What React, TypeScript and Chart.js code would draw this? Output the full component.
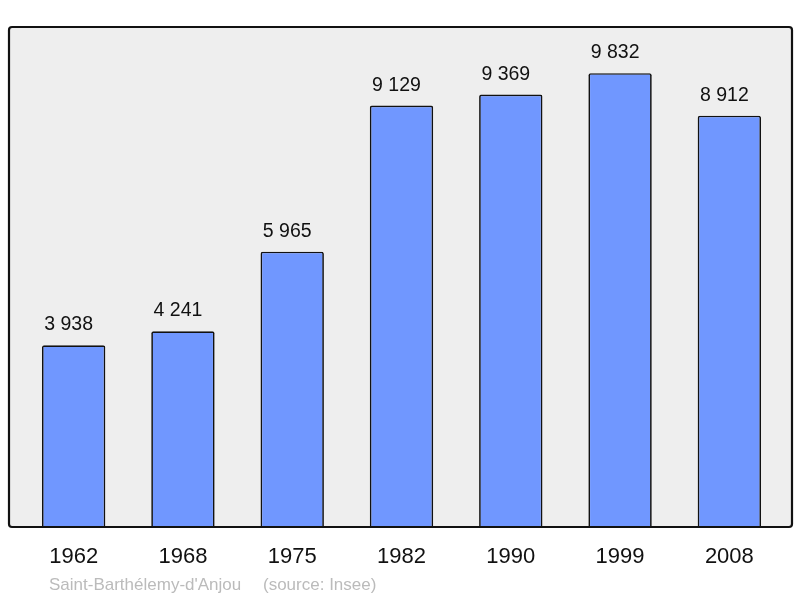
import React, { useEffect, useRef } from "react";
import { Chart, registerables } from "chart.js";

Chart.register(...registerables);

const years = ["1962", "1968", "1975", "1982", "1990", "1999", "2008"];
const population = [3938, 4241, 5965, 9129, 9369, 9832, 8912];
const sourceName = "Saint-Barthélemy-d'Anjou";
const sourceText = "(source: Insee)";

const fmt = (v: number) => String(v).replace(/\B(?=(\d{3})+(?!\d))/g, " ");

const framePlugin = {
  id: "frame",
  beforeDatasetsDraw(chart: any) {
    const { ctx, chartArea } = chart;
    const x0 = chartArea.left - 10;
    const x1 = chartArea.right + 8;
    const y0 = chartArea.top;
    const y1 = chartArea.bottom;
    ctx.save();
    ctx.fillStyle = "#eeeeee";
    ctx.beginPath();
    ctx.roundRect(x0, y0, x1 - x0, y1 - y0, 3);
    ctx.fill();
    ctx.restore();
  },
  afterDatasetsDraw(chart: any) {
    const { ctx, chartArea } = chart;
    const x0 = chartArea.left - 10;
    const x1 = chartArea.right + 8;
    const y0 = chartArea.top;
    const y1 = chartArea.bottom;
    ctx.save();
    ctx.strokeStyle = "#111111";
    ctx.lineWidth = 2.2;
    ctx.beginPath();
    ctx.roundRect(x0, y0, x1 - x0, y1 - y0, 3);
    ctx.stroke();
    // value labels
    const meta = chart.getDatasetMeta(0);
    ctx.fillStyle = "#111111";
    ctx.font = "19.5px 'Liberation Sans', Arial, sans-serif";
    ctx.textAlign = "center";
    ctx.textBaseline = "alphabetic";
    meta.data.forEach((bar: any, i: number) => {
      ctx.fillText(fmt(population[i]), bar.x - 5, bar.y - 15);
    });
    // source
    ctx.fillStyle = "#bbbbbb";
    ctx.font = "17px 'Liberation Sans', Arial, sans-serif";
    ctx.textAlign = "left";
    ctx.fillText(sourceName, chartArea.left + 30, 590);
    ctx.fillText(sourceText, chartArea.left + 244, 590);
    ctx.restore();
  },
};

export default function App() {
  const ref = useRef<HTMLCanvasElement | null>(null);
  useEffect(() => {
    if (!ref.current) return;
    const chart = new Chart(ref.current, {
      type: "bar",
      data: {
        labels: years,
        datasets: [
          {
            data: population,
            backgroundColor: "#7097ff",
            borderColor: "#111111",
            borderWidth: 1.7,
            borderRadius: 2,
            borderSkipped: "start",
            categoryPercentage: 1,
            barPercentage: 0.58,
          },
        ],
      },
      options: {
        animation: false,
        responsive: false,
        maintainAspectRatio: false,
        layout: { padding: { left: 19, right: 16, top: 27, bottom: 10.6 } },
        plugins: { legend: { display: false }, tooltip: { enabled: false } },
        scales: {
          x: {
            grid: { display: false, drawTicks: false },
            border: { display: false },
            ticks: {
              color: "#111111",
              padding: 17,
              font: { size: 22, family: "'Liberation Sans', Arial, sans-serif" },
            },
          },
          y: {
            display: false,
            min: 0,
            max: 10832,
          },
        },
      },
      plugins: [framePlugin],
    });
    return () => chart.destroy();
  }, []);
  return (
    <div style={{ position: "fixed", left: 0, top: 0, width: 800, height: 598 }}>
      <canvas ref={ref} width={800} height={598} style={{ display: "block" }} />
    </div>
  );
}
